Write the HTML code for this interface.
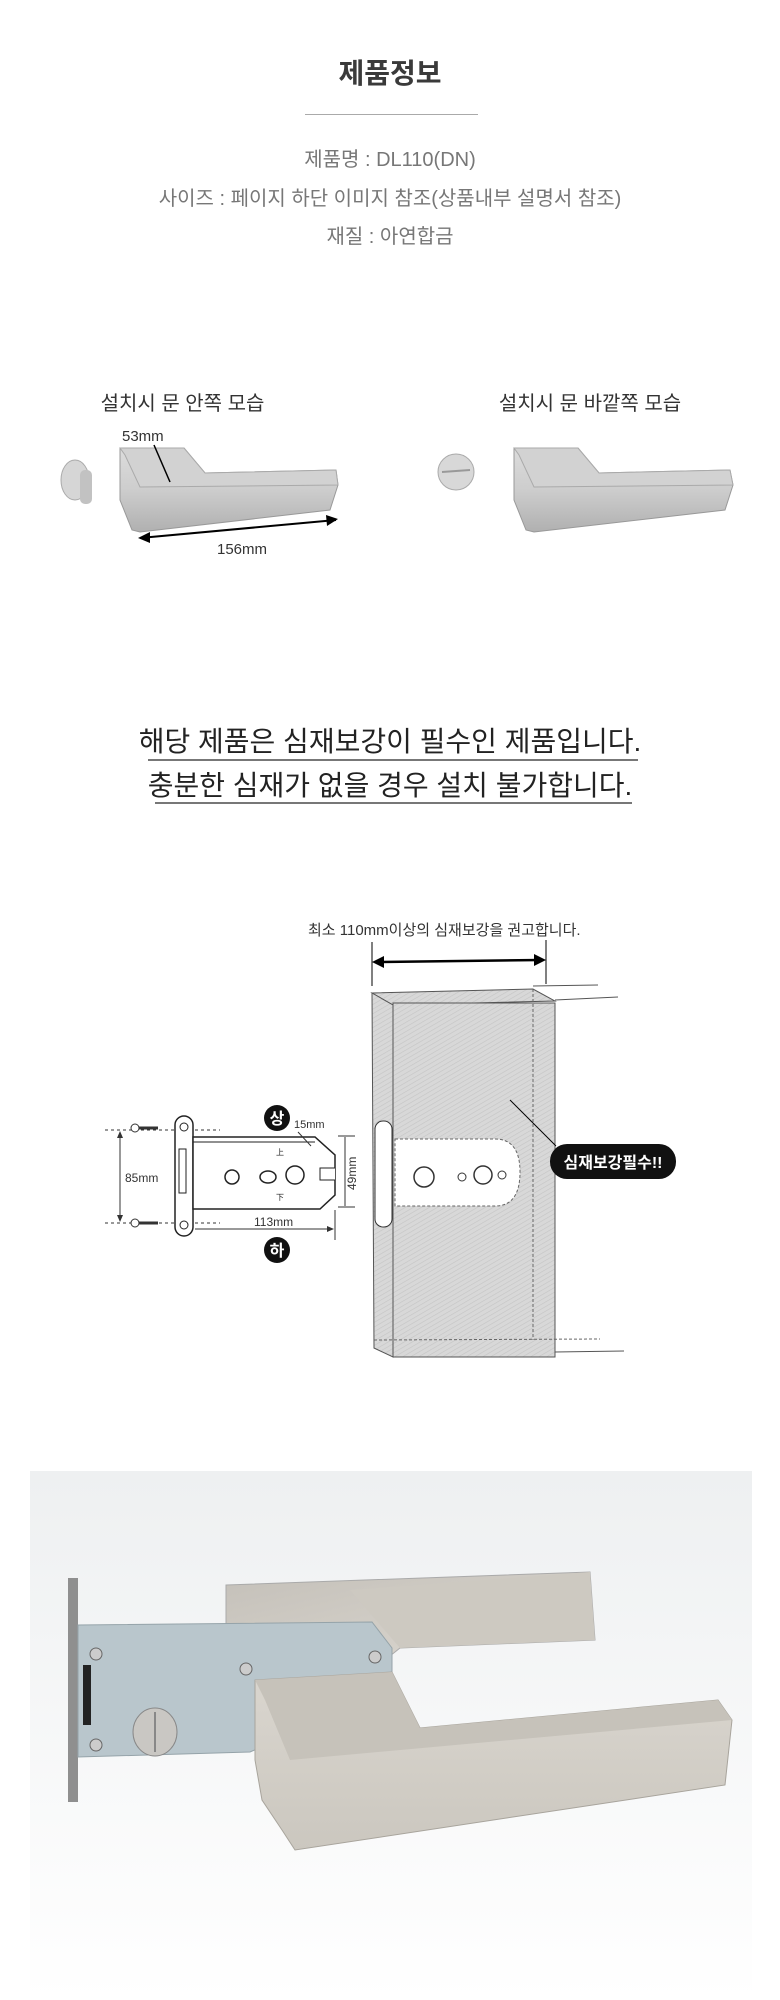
<!DOCTYPE html>
<html><head><meta charset="utf-8"><style>
html,body{margin:0;padding:0;background:#fff;}
body{width:780px;height:2000px;position:relative;overflow:hidden;font-family:"Liberation Sans","Noto Sans CJK KR",sans-serif;}
.t{position:absolute;left:0;width:780px;text-align:center;white-space:nowrap;}
</style></head><body>
<div class="t" style="top:56px;font-size:28px;font-weight:bold;color:#3a3a3a;line-height:36px;">제품정보</div>
<div style="position:absolute;left:305px;top:114px;width:173px;height:1px;background:#aaa"></div>
<div class="t" style="top:147px;font-size:20px;color:#777;line-height:26px;">제품명 : DL110(DN)</div>
<div class="t" style="top:186px;font-size:20px;color:#777;line-height:26px;">사이즈 : 페이지 하단 이미지 참조(상품내부 설명서 참조)</div>
<div class="t" style="top:224px;font-size:20px;color:#777;line-height:26px;">재질 : 아연합금</div>

<div style="position:absolute;left:100px;top:387px;width:165px;text-align:center;font-size:20px;color:#333;white-space:nowrap">설치시 문 안쪽 모습</div>
<div style="position:absolute;left:495px;top:387px;width:190px;text-align:center;font-size:20px;color:#333;white-space:nowrap">설치시 문 바깥쪽 모습</div>

<svg style="position:absolute;left:0;top:0" width="780" height="2000">
<defs>
<linearGradient id="hg" x1="0" y1="0" x2="0" y2="1"><stop offset="0" stop-color="#dcdcdc"/><stop offset="0.5" stop-color="#cdcdcd"/><stop offset="1" stop-color="#b0b0b0"/></linearGradient>
<pattern id="hatch" width="4" height="4" patternUnits="userSpaceOnUse" patternTransform="rotate(60)"><rect width="4" height="4" fill="#d8d8d8"/><line x1="0" y1="0" x2="0" y2="4" stroke="#c4c4c4" stroke-width="1.2"/></pattern>
<linearGradient id="pbg" x1="0" y1="0" x2="0" y2="1"><stop offset="0" stop-color="#eef0f1"/><stop offset="1" stop-color="#ffffff"/></linearGradient>
<linearGradient id="ph" x1="0" y1="0" x2="1" y2="1"><stop offset="0" stop-color="#c4c0b9"/><stop offset="1" stop-color="#dcd8d1"/></linearGradient>
<linearGradient id="ph2" x1="0" y1="0" x2="0" y2="1"><stop offset="0" stop-color="#dad6cf"/><stop offset="1" stop-color="#cbc7bf"/></linearGradient>
</defs>
<ellipse cx="75" cy="480" rx="14" ry="20" fill="#d6d6d6" stroke="#aaa"/>
<rect x="80" y="470" width="12" height="34" rx="5" fill="#c2c2c2"/>
<polygon points="120,448 184,448 205,473 336,470 338,485 330,510 140,532 132,530 120,500" fill="url(#hg)" stroke="#999"/>
<polygon points="120,448 184,448 205,473 336,470 338,485 140,487 125,455" fill="#d2d2d2" stroke="#aaa"/>
<line x1="154" y1="445" x2="170" y2="482" stroke="#000" stroke-width="1.5"/>
<text x="122" y="441" font-size="15" fill="#333" font-family="Liberation Sans">53mm</text>
<line x1="140" y1="538" x2="336" y2="520" stroke="#000" stroke-width="2"/>
<polygon points="138,538 150,532 150,543" fill="#000"/><polygon points="338,519 326,515 327,526" fill="#000"/>
<text x="217" y="554" font-size="15" fill="#333" font-family="Liberation Sans">156mm</text>
<circle cx="456" cy="472" r="18" fill="#d8d8d8" stroke="#aaa"/>
<line x1="442" y1="472" x2="470" y2="470" stroke="#999" stroke-width="2"/>
<polygon points="514,448 578,448 599,473 730,470 733,485 725,510 534,532 526,530 514,500" fill="url(#hg)" stroke="#999"/>
<polygon points="514,448 578,448 599,473 730,470 733,485 534,487 519,455" fill="#d2d2d2" stroke="#aaa"/>

<line x1="148" y1="760" x2="638" y2="760" stroke="#777" stroke-width="2"/>
<line x1="155" y1="803" x2="632" y2="803" stroke="#777" stroke-width="2"/>

<text x="308" y="935" font-size="15" fill="#333" font-family="Liberation Sans, Noto Sans CJK KR">최소 110mm이상의 심재보강을 권고합니다.</text>
<line x1="372" y1="942" x2="372" y2="986" stroke="#000"/><line x1="546" y1="940" x2="546" y2="984" stroke="#000"/>
<line x1="378" y1="962" x2="540" y2="960" stroke="#000" stroke-width="2.5"/>
<polygon points="372,962 384,956 384,968" fill="#000"/><polygon points="546,960 534,954 534,966" fill="#000"/>
<polygon points="372,993 533,989 555,1001 393,1005" fill="url(#hatch)" stroke="#555"/>
<polygon points="372,993 393,1005 393,1357 374,1348" fill="url(#hatch)" stroke="#555"/>
<rect x="393" y="1003" width="162" height="354" fill="url(#hatch)" stroke="#555"/>
<line x1="533" y1="989" x2="533" y2="1340" stroke="#666" stroke-dasharray="3,2"/>
<line x1="374" y1="1340" x2="600" y2="1339" stroke="#666" stroke-dasharray="3,2"/>
<line x1="533" y1="986" x2="598" y2="985" stroke="#555"/><line x1="555" y1="1000" x2="618" y2="997" stroke="#555"/>
<line x1="555" y1="1352" x2="624" y2="1351" stroke="#555"/>
<rect x="375" y="1121" width="17" height="106" rx="8" fill="#fff" stroke="#333"/>
<path d="M395,1139 H495 Q520,1139 520,1172 Q520,1206 495,1206 H395 Z" fill="#fff" stroke="#666" stroke-dasharray="3,2"/>
<circle cx="424" cy="1177" r="10" fill="#fff" stroke="#333" stroke-width="1.5"/>
<circle cx="462" cy="1177" r="4" fill="#fff" stroke="#333"/>
<circle cx="483" cy="1175" r="9" fill="#fff" stroke="#333" stroke-width="1.5"/>
<circle cx="502" cy="1175" r="4" fill="#fff" stroke="#333"/>
<line x1="510" y1="1100" x2="556" y2="1146" stroke="#000"/>
<rect x="550" y="1144" width="126" height="35" rx="17" fill="#111"/>
<text x="613" y="1168" font-size="16" font-weight="bold" fill="#fff" text-anchor="middle" font-family="Liberation Sans, Noto Sans CJK KR">심재보강필수!!</text>

<line x1="105" y1="1130" x2="220" y2="1130" stroke="#333" stroke-dasharray="3,3"/>
<line x1="105" y1="1223" x2="220" y2="1223" stroke="#333" stroke-dasharray="3,3"/>
<line x1="120" y1="1132" x2="120" y2="1221" stroke="#333"/>
<polygon points="120,1131 117,1138 123,1138" fill="#333"/><polygon points="120,1222 117,1215 123,1215" fill="#333"/>
<text x="125" y="1182" font-size="12" fill="#333" font-family="Liberation Sans">85mm</text>
<circle cx="135" cy="1128" r="4" fill="#fff" stroke="#333"/><line x1="139" y1="1128" x2="158" y2="1128" stroke="#333" stroke-width="3"/>
<circle cx="135" cy="1223" r="4" fill="#fff" stroke="#333"/><line x1="139" y1="1223" x2="158" y2="1223" stroke="#333" stroke-width="3"/>
<rect x="175" y="1116" width="18" height="120" rx="9" fill="#fff" stroke="#222" stroke-width="1.5"/>
<circle cx="184" cy="1127" r="4" fill="none" stroke="#222"/><circle cx="184" cy="1225" r="4" fill="none" stroke="#222"/>
<rect x="179" y="1149" width="7" height="44" fill="#fff" stroke="#222"/>
<polygon points="193,1137 315,1137 335,1155 335,1195 320,1209 193,1209" fill="#fff" stroke="#222" stroke-width="1.5"/>
<line x1="193" y1="1142" x2="315" y2="1142" stroke="#222"/>
<circle cx="232" cy="1177" r="7" fill="none" stroke="#222" stroke-width="1.5"/>
<ellipse cx="268" cy="1177" rx="8" ry="6" fill="none" stroke="#222" stroke-width="1.5"/>
<circle cx="295" cy="1175" r="9" fill="none" stroke="#222" stroke-width="1.5"/>
<path d="M335,1168 h-15 v12 h15" fill="#fff" stroke="#222"/>
<text x="276" y="1155" font-size="8" fill="#222">上</text><text x="276" y="1200" font-size="8" fill="#222">下</text>
<line x1="338" y1="1136" x2="355" y2="1136" stroke="#333"/><line x1="338" y1="1207" x2="355" y2="1207" stroke="#333"/>
<line x1="345" y1="1137" x2="345" y2="1206" stroke="#333"/>
<text x="0" y="0" font-size="12" fill="#333" transform="translate(356,1190) rotate(-90)" font-family="Liberation Sans">49mm</text>
<line x1="335" y1="1210" x2="335" y2="1240" stroke="#333"/>
<line x1="195" y1="1229" x2="333" y2="1229" stroke="#333"/>
<polygon points="334,1229 327,1226 327,1232" fill="#333"/>
<text x="254" y="1226" font-size="12" fill="#333" font-family="Liberation Sans">113mm</text>
<text x="294" y="1128" font-size="11" fill="#333" font-family="Liberation Sans">15mm</text>
<line x1="298" y1="1132" x2="311" y2="1146" stroke="#333"/>
<circle cx="277" cy="1118" r="13" fill="#111"/><text x="277" y="1124" font-size="16" font-weight="bold" fill="#fff" text-anchor="middle" font-family="Noto Sans CJK KR">상</text>
<circle cx="277" cy="1250" r="13" fill="#111"/><text x="277" y="1256" font-size="16" font-weight="bold" fill="#fff" text-anchor="middle" font-family="Noto Sans CJK KR">하</text>

<rect x="30" y="1471" width="722" height="529" fill="url(#pbg)"/>
<polygon points="226,1585 590,1572 595,1640 400,1648 385,1660 226,1625" fill="url(#ph)" stroke="#aaa"/>
<polygon points="350,1590 590,1572 595,1640 400,1648" fill="#cdc9c1"/>
<rect x="68" y="1578" width="10" height="224" fill="#8f8f8f"/>
<polygon points="78,1625 372,1622 392,1648 392,1690 250,1752 78,1757" fill="#b9c6cc" stroke="#95a3a9"/>
<rect x="83" y="1665" width="8" height="60" fill="#222"/>
<circle cx="96" cy="1654" r="6" fill="#ccc" stroke="#666"/><circle cx="96" cy="1745" r="6" fill="#ccc" stroke="#666"/>
<circle cx="246" cy="1669" r="6" fill="#ccc" stroke="#666"/><circle cx="375" cy="1657" r="6" fill="#ccc" stroke="#666"/>
<ellipse cx="155" cy="1732" rx="22" ry="24" fill="#c9c7c3" stroke="#888"/>
<line x1="155" y1="1712" x2="155" y2="1752" stroke="#888" stroke-width="2"/>
<polygon points="255,1680 392,1672 420,1728 718,1700 732,1720 725,1785 295,1850 282,1830 262,1800 255,1760" fill="url(#ph2)" stroke="#a8a49c"/>
<polygon points="255,1680 392,1672 420,1728 718,1700 732,1720 290,1760 265,1700" fill="#c6c2ba"/>
</svg>
<div class="t" style="top:724px;font-size:28px;color:#222;line-height:36px;">해당 제품은 심재보강이 필수인 제품입니다.</div>
<div class="t" style="top:768px;font-size:28px;color:#222;line-height:36px;">충분한 심재가 없을 경우 설치 불가합니다.</div>
</body></html>
